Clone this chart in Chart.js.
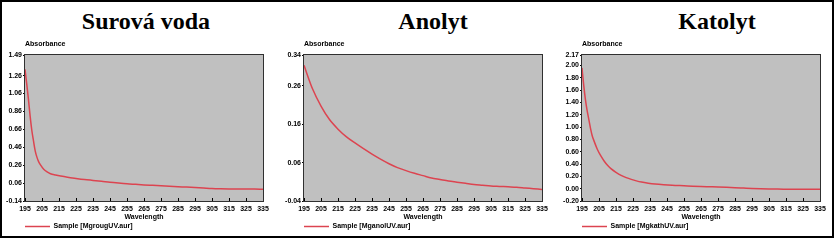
<!DOCTYPE html>
<html>
<head>
<meta charset="utf-8">
<script src="https://cdn.jsdelivr.net/npm/chart.js@4.4.1/dist/chart.umd.min.js"></script>
<style>
    body { margin: 0; background: #fff; }
    #wrap { position: relative; width: 836px; height: 240px; overflow: hidden; background: #fff; }
    #frame { position: absolute; left: 0; top: 0; width: 834px; height: 238px; box-sizing: border-box; border: 2px solid #000; pointer-events: none; }
    .title { position: absolute; top: 8px; width: 200px; text-align: center; font: bold 24px "Liberation Serif", serif; color: #000; }
    canvas { position: absolute; top: 0; }
</style>
</head>
<body>
<div id="wrap">
    <div class="title" style="left:46px">Surová voda</div>
    <div class="title" style="left:333px">Anolyt</div>
    <div class="title" style="left:617px">Katolyt</div>
    <canvas id="raw" width="278" height="240" style="left:0"></canvas>
    <canvas id="ano" width="278" height="240" style="left:279px"></canvas>
    <canvas id="kat" width="278" height="240" style="left:557px"></canvas>
    <div id="frame"></div>
</div>
<script>
const xTicks = [195, 205, 215, 225, 235, 245, 255, 265, 275, 285, 295, 305, 315, 325, 335];

const rawWl = [195, 196, 197, 198, 199, 200, 201, 202, 203, 204, 206, 208, 210, 213, 216, 220, 225, 230, 235, 240, 245, 250, 255, 260, 265, 270, 275, 280, 285, 290, 295, 300, 305, 310, 315, 320, 325, 330, 335];
const rawAbs = [1.33, 1.17, 1.00, 0.81, 0.65, 0.53, 0.42, 0.35, 0.30, 0.265, 0.215, 0.185, 0.165, 0.150, 0.138, 0.125, 0.112, 0.100, 0.090, 0.080, 0.069, 0.060, 0.052, 0.046, 0.040, 0.035, 0.030, 0.025, 0.020, 0.015, 0.010, 0.005, 0.000, -0.003, -0.005, -0.006, -0.007, -0.007, -0.008];
const rawTicks = [-0.14, 0.06, 0.26, 0.46, 0.66, 0.86, 1.06, 1.26, 1.49];

const anoWl = [195, 200, 205, 210, 215, 220, 225, 230, 235, 240, 245, 250, 255, 260, 265, 270, 275, 280, 285, 290, 295, 300, 305, 310, 315, 320, 325, 330, 335];
const anoAbs = [0.313, 0.252, 0.207, 0.172, 0.147, 0.127, 0.111, 0.096, 0.082, 0.069, 0.057, 0.047, 0.039, 0.032, 0.026, 0.020, 0.016, 0.012, 0.009, 0.006, 0.003, 0.001, -0.001, -0.002, -0.003, -0.004, -0.006, -0.008, -0.010];
const anoTicks = [-0.04, 0.06, 0.16, 0.26, 0.34];

const katWl = [195, 196, 197, 198, 199, 200, 201, 202, 204, 206, 208, 210, 212, 215, 218, 221, 224, 227, 230, 234, 238, 243, 248, 255, 260, 265, 270, 275, 280, 285, 290, 295, 300, 305, 310, 315, 320, 325, 330, 335];
const katAbs = [1.96, 1.68, 1.45, 1.27, 1.125, 0.98, 0.86, 0.78, 0.64, 0.535, 0.45, 0.38, 0.325, 0.265, 0.216, 0.18, 0.151, 0.127, 0.108, 0.09, 0.076, 0.064, 0.055, 0.047, 0.041, 0.036, 0.032, 0.028, 0.023, 0.017, 0.01, 0.003, -0.002, -0.005, -0.007, -0.008, -0.009, -0.01, -0.01, -0.01];
const katTicks = [-0.2, 0, 0.2, 0.4, 0.6, 0.8, 1.0, 1.2, 1.4, 1.6, 1.8, 2.0, 2.17];

const legendNames = ["Sample [MgrougUV.aur]", "Sample [MganolUV.aur]", "Sample [MgkathUV.aur]"];

const small = { family: "'Liberation Sans', Arial, sans-serif", size: 7, weight: "bold" };

const plotBox = {
    id: "plotBox",
    afterLayout(chart) {
        // legend line starts under the plot's left edge
        chart.legend.left = chart.chartArea.left - 2;
    },
    beforeDraw(chart) {
        const { ctx, chartArea: a } = chart;
        ctx.save();
        ctx.fillStyle = "#c0c0c0";
        ctx.fillRect(a.left, a.top, a.width, a.height);
        ctx.font = "bold 7px 'Liberation Sans', Arial, sans-serif";
        ctx.fillStyle = "#000";
        ctx.textBaseline = "middle";
        ctx.fillText("Absorbance", a.left, a.top - 10.5);
        ctx.restore();
    },
    afterDatasetsDraw(chart) {
        const { ctx, chartArea: a } = chart;
        ctx.save();
        ctx.strokeStyle = "#303030";
        ctx.lineWidth = 1;
        ctx.strokeRect(Math.round(a.left) - .5, Math.round(a.top) - .5, Math.round(a.width) + 1, Math.round(a.height) + 1);
        ctx.restore();
    }
};

function panel(id, wl, abs, yTicks, name) {
    new Chart(document.getElementById(id), {
        type: "line",
        data: {
            datasets: [{
                label: name,
                data: wl.map((x, i) => ({ x, y: abs[i] })),
                borderColor: "#dc4450",
                borderWidth: 1.5,
                pointRadius: 0,
                tension: .4,
                cubicInterpolationMode: "monotone"
            }]
        },
        options: {
            responsive: false,
            animation: false,
            events: [],
            layout: { padding: { left: 0, right: 15, top: 55, bottom: 0 } },
            plugins: {
                tooltip: { enabled: false },
                legend: {
                    position: "bottom",
                    align: "start",
                    labels: { usePointStyle: true, pointStyle: "line", pointStyleWidth: 25, padding: 2, font: small, color: "#000" }
                }
            },
            scales: {
                x: {
                    type: "linear",
                    min: xTicks[0],
                    max: xTicks[xTicks.length - 1],
                    afterBuildTicks: s => { s.ticks = xTicks.map(v => ({ value: v })); },
                    afterFit: s => { s.height = 20; },
                    ticks: { autoSkip: false, maxRotation: 0, padding: 7, font: small, color: "#000", callback: v => v },
                    grid: { drawOnChartArea: false, tickLength: -3, color: "#000" },
                    border: { display: false },
                    title: { display: true, text: "Wavelength", font: small, color: "#000", padding: 0 }
                },
                y: {
                    min: yTicks[0],
                    max: yTicks[yTicks.length - 1],
                    afterBuildTicks: s => { s.ticks = yTicks.map(v => ({ value: v })); },
                    afterFit: s => { s.width = 25; },
                    ticks: { autoSkip: false, padding: 1, font: small, color: "#000", callback: v => v.toFixed(2) },
                    grid: { drawOnChartArea: false, tickLength: 2, color: "#000" },
                    border: { display: false }
                }
            }
        },
        plugins: [plotBox]
    });
}

panel("raw", rawWl, rawAbs, rawTicks, legendNames[0]);
panel("ano", anoWl, anoAbs, anoTicks, legendNames[1]);
panel("kat", katWl, katAbs, katTicks, legendNames[2]);
</script>
</body>
</html>
